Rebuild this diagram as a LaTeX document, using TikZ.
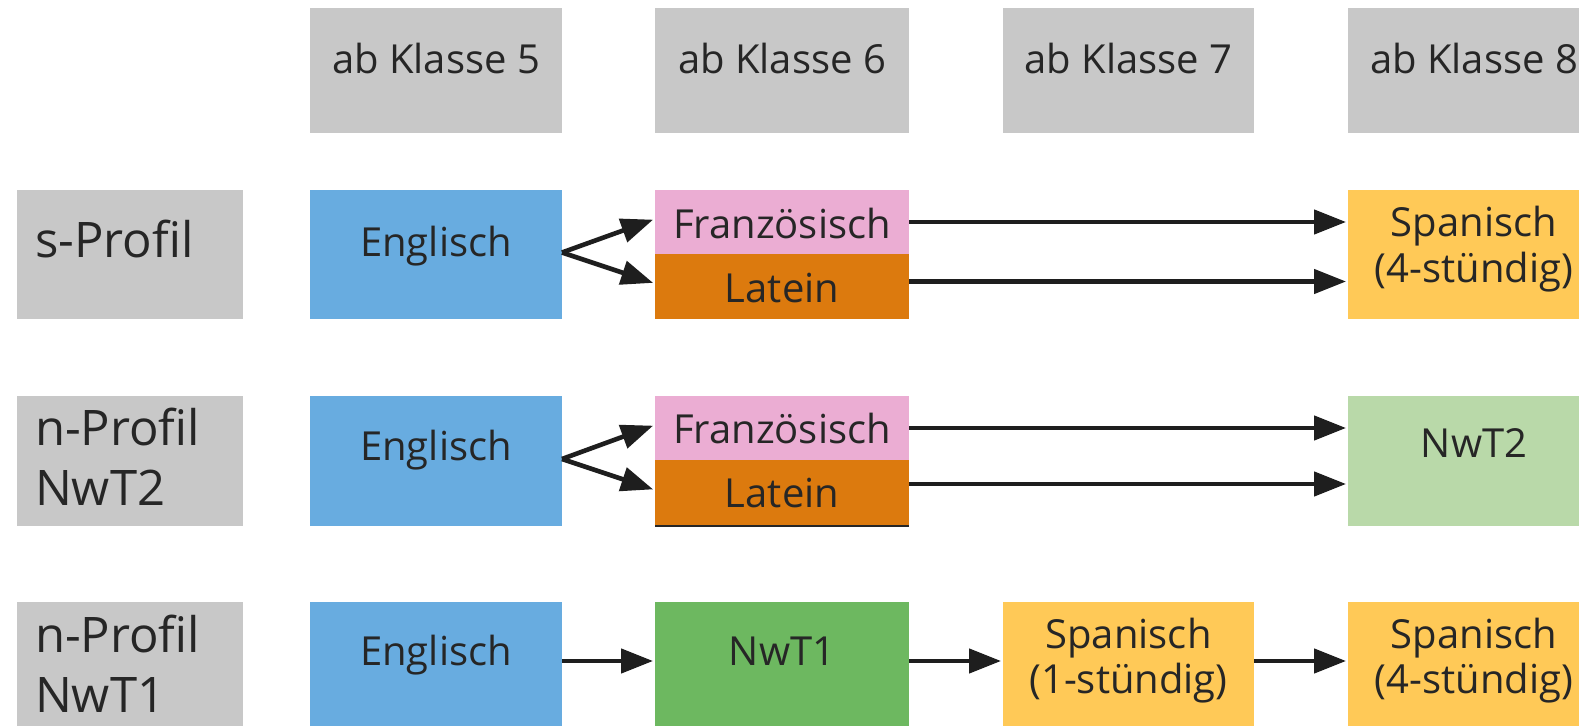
\documentclass[tikz,border=0pt]{standalone}
\usepackage{fontspec}
\setmainfont{Open Sans}
\usetikzlibrary{arrows.meta}
\definecolor{cgrey}{HTML}{C8C8C8}
\definecolor{cblue}{HTML}{68ACE0}
\definecolor{cpink}{HTML}{EBADD3}
\definecolor{corange}{HTML}{DC7A0E}
\definecolor{cyellow}{HTML}{FFC957}
\definecolor{clgreen}{HTML}{B9D9A9}
\definecolor{cgreen}{HTML}{6DB860}
\definecolor{ctext}{HTML}{262626}
\definecolor{carrow}{HTML}{1E1E1E}
\begin{document}
\begin{tikzpicture}[x=0.5pt,y=-0.5pt,
  box/.style={draw=none, inner sep=0pt, outer sep=0pt, rectangle},
  colw/.style={minimum width=126pt},
  labw/.style={minimum width=113pt},
  txt/.style={inner sep=0pt, outer sep=0pt, anchor=base, text=ctext, font=\fontsize{20}{24}\selectfont},
  lbl/.style={inner sep=0pt, outer sep=0pt, anchor=base west, text=ctext, font=\fontsize{24.5}{29}\selectfont},
  conn/.style={draw=carrow, line width=2.3pt, -{Triangle[length=16pt,width=12pt]}, shorten >=1pt}]
\useasboundingbox (0,0) rectangle (1579,726);
\clip (0,0) rectangle (1579,726);
% header
\node[box, fill=cgrey, colw, minimum height=62.5pt] (h1) at (436,70.5) {};
\node[box, fill=cgrey, minimum width=127pt, minimum height=62.5pt] (h2) at (782,70.5) {};
\node[box, fill=cgrey, minimum width=125.5pt, minimum height=62.5pt] (h3) at (1128.5,70.5) {};
\node[box, fill=cgrey, colw, minimum height=62.5pt] (h4) at (1474,70.5) {};
\node[txt] (h1t) at (436,74) {ab Klasse 5};
\node[txt] (h2t) at (782,74) {ab Klasse 6};
\node[txt] (h3t) at (1128.5,74) {ab Klasse 7};
\node[txt] (h4t) at (1474,74) {ab Klasse 8};
% row labels
\node[box, fill=cgrey, labw, minimum height=64.5pt] (r1) at (130,254.5) {};
\node[box, fill=cgrey, labw, minimum height=65pt] (r2) at (130,461) {};
\node[box, fill=cgrey, labw, minimum height=65pt] (r3) at (130,667) {};
\node[lbl] (r1t) at (35,258) {s-Profil};
\node[lbl] (r2ta) at (35,446) {n-Profil};
\node[lbl] (r2tb) at (35,506) {NwT2};
\node[lbl] (r3ta) at (35,653) {n-Profil};
\node[lbl] (r3tb) at (35,712) {NwT1};
% row 1
\node[box, fill=cblue, colw, minimum height=64.5pt] (e1) at (436,254.5) {};
\node[box, fill=cpink, minimum width=127pt, minimum height=32pt] (fr1) at (782,222) {};
\node[box, fill=corange, minimum width=127pt, minimum height=32.5pt] (la1) at (782,286.5) {};
\node[box, fill=cyellow, colw, minimum height=64.5pt] (sp1) at (1474,254.5) {};
\node[txt] (e1t) at (436,257) {Englisch};
\node[txt] (fr1t) at (782,239) {Französisch};
\node[txt] (la1t) at (782,303) {Latein};
\node[txt] (sp1ta) at (1474,237) {Spanisch};
\node[txt] (sp1tb) at (1474,283) {(4-stündig)};
% row 2
\node[box, fill=cblue, colw, minimum height=65pt] (e2) at (436,461) {};
\node[box, fill=cpink, minimum width=127pt, minimum height=32pt] (fr2) at (782,428) {};
\node[box, fill=corange, minimum width=127pt, minimum height=33pt] (la2) at (782,493) {};
\node[box, fill=clgreen, colw, minimum height=65pt] (nw2) at (1474,461) {};
\node[txt] (e2t) at (436,461) {Englisch};
\node[txt] (fr2t) at (782,444) {Französisch};
\node[txt] (la2t) at (782,508) {Latein};
\node[txt] (nw2t) at (1474,458) {NwT2};
\draw[line width=1pt, draw=ctext] (la2.south west) -- (la2.south east);
% row 3
\node[box, fill=cblue, colw, minimum height=65pt] (e3) at (436,667) {};
\node[box, fill=cgreen, minimum width=127pt, minimum height=65pt] (nw3) at (782,667) {};
\node[box, fill=cyellow, minimum width=125.5pt, minimum height=65pt] (sp3) at (1128.5,667) {};
\node[box, fill=cyellow, colw, minimum height=65pt] (sp4) at (1474,667) {};
\node[txt] (e3t) at (436,665) {Englisch};
\node[txt] (nw3t) at (782,665) {NwT1};
\node[txt] (sp3ta) at (1128.5,648) {Spanisch};
\node[txt] (sp3tb) at (1128.5,693) {(1-stündig)};
\node[txt] (sp4ta) at (1474,648) {Spanisch};
\node[txt] (sp4tb) at (1474,693) {(4-stündig)};
% connectors row 1
\draw[conn] ([yshift=1pt]e1.east) -- ([yshift=1.5pt]fr1.west);
\draw[conn] ([yshift=1pt]e1.east) -- ([yshift=1.5pt]la1.west);
\draw[conn] (fr1.east) -- (fr1.east -| sp1.west);
\draw[conn] ([yshift=2.5pt]la1.east) -- ([yshift=2.5pt]la1.east -| sp1.west);
% connectors row 2
\draw[conn] ([yshift=1pt]e2.east) -- ([yshift=1.5pt]fr2.west);
\draw[conn] ([yshift=1pt]e2.east) -- ([yshift=1.5pt]la2.west);
\draw[conn] ([yshift=0pt]fr2.east) -- ([yshift=0pt]fr2.east -| nw2.west);
\draw[conn] ([yshift=4.5pt]la2.east) -- ([yshift=4.5pt]la2.east -| nw2.west);
% connectors row 3
\draw[conn] ([yshift=3pt]e3.east) -- ([yshift=3pt]e3.east -| nw3.west);
\draw[conn] ([yshift=3pt]nw3.east) -- ([yshift=3pt]nw3.east -| sp3.west);
\draw[conn] ([yshift=3pt]sp3.east) -- ([yshift=3pt]sp3.east -| sp4.west);
\end{tikzpicture}
\end{document}
